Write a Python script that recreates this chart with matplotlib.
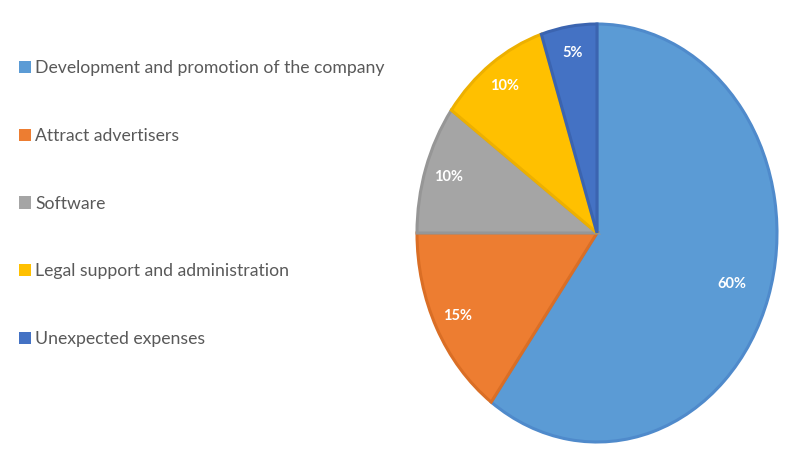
import matplotlib.pyplot as plt
import numpy as np

# Data
categories = ["Development and promotion of the company", "Attract advertisers",
              "Software", "Legal support and administration", "Unexpected expenses"]
shares = [60, 15, 10, 10, 5]
colors = ['#5B9BD5', '#ED7D31', '#A5A5A5', '#FFC000', '#4472C4']
edge_colors = ['#4F8ACB', '#DA6E25', '#969696', '#EDB000', '#3B64B0']

plt.rcParams['font.family'] = ['Lato', 'DejaVu Sans']

fig = plt.figure(figsize=(8.0, 4.72), dpi=100)

# Pie bounding box in pixels (elliptical, as in the reference)
cx, cy, rx, ry = 597, 233, 180, 209
lim = 1.05
W, H = 800, 472
ax = fig.add_axes([(cx - rx * lim) / W, (H - cy - ry * lim) / H,
                   2 * rx * lim / W, 2 * ry * lim / H])

wedges, texts, autotexts = ax.pie(
    shares, colors=colors, startangle=90, counterclock=False,
    autopct='%d%%', pctdistance=0.87,
    wedgeprops=dict(linewidth=2.2), textprops=dict(color='white', fontsize=10.5, fontweight='bold'))
for w, ec in zip(wedges, edge_colors):
    w.set_edgecolor(ec)

# move the big slice's label further inward
w0 = wedges[0]
mid = np.deg2rad((w0.theta1 + w0.theta2) / 2)
autotexts[0].set_position((0.79 * np.cos(mid), 0.79 * np.sin(mid)))

ax.set_aspect('auto')
ax.set_xlim(-lim, lim)
ax.set_ylim(-lim, lim)

leg = fig.legend(wedges, categories, loc='upper left', bbox_to_anchor=(0.004, 0.906),
                 frameon=False, fontsize=12.7, handlelength=0.7, handleheight=0.7,
                 handletextpad=0.2, labelspacing=2.93, labelcolor='#595959')
for h in leg.legend_handles:
    h.set_linewidth(0)

fig.savefig('out.png', dpi=100)
